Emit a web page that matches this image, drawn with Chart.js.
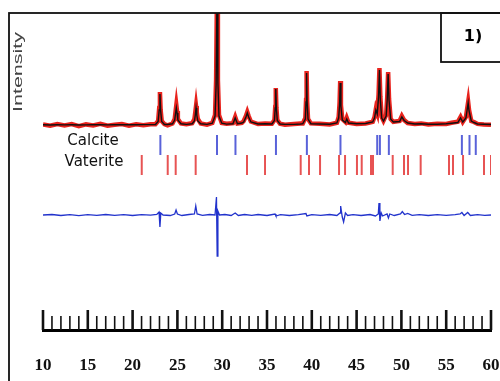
<!DOCTYPE html>
<html>
<head>
<meta charset="utf-8">
<script src="https://cdn.jsdelivr.net/npm/chart.js@4.4.1/dist/chart.umd.min.js"></script>
<style>
  html, body { margin: 0; padding: 0; background: #fff; overflow: hidden; }
  canvas { display: block; }
</style>
</head>
<body>
<canvas id="xrd" width="500" height="381"></canvas>
<script>
// 2theta grid shared by observed and calculated profiles
const twoTheta = [
  10, 10.8, 11.6, 12.4, 13.2, 14, 14.8, 15.6, 16.4, 17.2, 18, 18.8, 19.6, 20.4, 21.2, 22,
  22.55, 22.85, 22.97, 23.05, 23.13, 23.25, 23.55,
  23.9, 24.45, 24.7, 24.8, 24.88, 24.96, 25.05, 25.4, 26.0,
  26.65, 26.9, 27.0, 27.08, 27.16, 27.28, 27.6, 28.3,
  28.9, 29.2, 29.32, 29.42, 29.52, 29.64, 29.95, 30.5,
  31.2, 31.45, 31.7, 32.2, 32.4, 32.65, 32.8, 32.95, 33.2, 34.0, 34.8,
  35.55, 35.83, 35.92, 35.98, 36.05, 36.15, 36.45, 37.0, 38.0, 38.75,
  39.0, 39.28, 39.36, 39.42, 39.48, 39.58, 39.9, 40.9, 42.0, 42.8,
  43.0, 43.1, 43.17, 43.25, 43.4, 43.75, 43.9, 44.1, 45.0, 46.0, 46.8,
  47.0, 47.15, 47.3, 47.45, 47.55, 47.65, 47.8, 48.0, 48.3, 48.42, 48.52, 48.62, 48.8, 49.1,
  49.8, 50.05, 50.3, 50.7, 51.5, 52.2, 53.0, 54.0, 55.0, 55.6, 56.3,
  56.6, 56.85, 57.2, 57.35, 57.45, 57.55, 57.8, 58.1, 58.5, 59.2, 60.0
];

const yObs = [
  0.6, -0.8, 1.0, -0.5, 0.9, -1.1, 0.6, -0.4, 1.2, -0.7, 0.3, 1.0, -0.6, 0.7, -0.3, 0.8,
  0.8, 4, 17, 33, 15, 4, 0.8,
  -0.3, 1.5, 6, 14, 20, 14, 6, 1.5, 0.8,
  1.8, 6, 13, 19, 13, 6, 1.5, 0.4,
  2, 10, 45, 135, 45, 10, 2, 1.2,
  1.8, 8, 1.5, 2.2, 4, 9, 13, 9, 3.5, 1.0, 1.6,
  1.2, 5, 18, 37, 17, 5, 1.2, 0.3, 1.1, 1.6,
  1.6, 7, 25, 54, 24, 6, 1.6, 1.3, 0.5, 2.2,
  8, 22, 44, 20, 6, 3, 7, 2.2, 1, 1.6, 3.2,
  8, 16, 12, 30, 57, 28, 8, 4.2, 10, 28, 53, 26, 6, 3.2,
  4, 9, 5, 2, 1.1, 1.6, 0.5, 1.3, 1, 2.2, 3.2,
  8, 3.2, 8, 17, 23, 15, 4, 3, 1.1, 0.5, 0.2
];

const yCalc = [
  0.2, 0, 0.3, 0.1, 0.2, 0, 0.1, 0.2, 0.3, 0.1, 0.2, 0.3, 0.2, 0.3, 0.4, 0.4,
  0.5, 3.5, 15, 31, 14, 3.5, 0.5,
  0.5, 1.2, 5, 12, 17, 12, 5, 1.2, 0.6,
  1.2, 4, 10, 17, 10, 4, 1.2, 0.6,
  1.8, 9, 40, 130, 42, 9, 1.8, 0.9,
  1.2, 7, 1.2, 2, 3, 8, 12, 8, 3, 1.0, 1.2,
  1, 4.5, 17, 36, 16, 4.5, 1, 0.6, 0.6, 1,
  1.3, 6, 23, 52, 23, 6, 1.3, 1, 0.8, 2,
  7, 20, 42, 19, 5, 2.5, 6, 2, 1.2, 1.5, 3,
  7, 15, 11, 28, 55, 25, 7, 4, 9, 26, 51, 25, 6, 3,
  3.5, 8, 4.5, 2, 1, 1.2, 0.8, 0.8, 1.2, 1.8, 2.5,
  7, 3, 7, 16, 22, 14, 4, 2.5, 1, 0.8, 0.5
];

// difference curve (obs - calc)
const diffTheta = [
  10, 11, 12, 13, 14, 15, 16, 17, 18, 19, 20, 21, 22,
  22.7, 22.95, 23.05, 23.15, 23.4,
  24.2, 24.7, 24.85, 25.0, 25.5,
  26.3, 26.9, 27.05, 27.2, 27.8,
  28.6, 29.2, 29.36, 29.44, 29.52, 29.7,
  30.3, 31.0, 31.45, 31.8, 32.5, 33.3, 34.0, 35.0,
  35.9, 36.0, 36.5, 37.5, 38.5,
  39.35, 39.45, 40.0, 41.0, 42.0, 42.8,
  43.15, 43.22, 43.4, 43.55, 43.75, 44.0, 44.6, 45.5, 46.5,
  47.1, 47.42, 47.5, 47.6, 47.75, 47.9,
  48.4, 48.55, 48.7, 49.2,
  49.9, 50.1, 50.35, 50.7, 51.2,
  52.0, 53.0, 54.0, 55.0, 56.0,
  56.55, 56.75, 57.0, 57.4, 57.7,
  58.5, 59.3, 60.0
];
const yDiff = [
  0, 0.5, -0.5, 0.3, -0.6, 0.4, -0.3, 0.5, -0.4, 0.3, -0.5, 0.4, -0.2,
  0.5, 3, -12, 2, 0,
  -0.5, 1, 5, 1, -0.5,
  0.5, 1, 9, 1, -0.3,
  0.5, 0, 18, -41, 4, 0,
  0.5, -0.5, 2, -0.5, 0.5, -0.3, 0.5, -0.5,
  1, -1, 0.3, -0.5, 0.4,
  1.5, -1, 0.3, -0.4, 0.5, -0.5,
  2, 9, -2, -7, 2, -0.5, 0.3, -0.5, 0.5,
  -1, 1, 12, -6, 2, -1,
  1, -3, 1, -0.5,
  1, 3.5, 0.5, 1.5, -0.3,
  0.4, -0.5, 0.3, -0.4, 0.3,
  1, 2.5, -0.5, 2.5, -0.5,
  0.3, -0.4, 0
];

// Bragg reflection positions
const calcitePeaks = [23.1, 29.42, 31.48, 36.0, 39.45, 43.2, 47.3, 47.6, 48.6, 56.75, 57.6, 58.3];
const vateritePeaks = [21.02, 23.92, 24.81, 27.04, 32.77, 34.78, 38.76, 39.69, 40.92, 43.04, 43.71,
  45.04, 45.57, 46.61, 46.83, 49.03, 50.29, 50.74, 52.15, 55.31, 55.76, 56.88, 59.22, 60.0];

const xTicks = { min: 10, max: 60, step: 5 };

// vertical offsets of the stacked parts (y units)
const OBS_BASE = 205;
const DIFF_BASE = 115;
const CALCITE_ROW = 185;
const VATERITE_ROW = 165;

const obsPts = twoTheta.map((t, i) => ({ x: t, y: OBS_BASE + yObs[i] }));
const calcPts = twoTheta.map((t, i) => ({ x: t, y: OBS_BASE + yCalc[i] }));
const diffPts = diffTheta.map((t, i) => ({ x: t, y: DIFF_BASE + yDiff[i] }));
const calcitePts = calcitePeaks.map(t => ({ x: t, y: CALCITE_ROW }));
const vateritePts = vateritePeaks.map(t => ({ x: t, y: VATERITE_ROW }));

const decorations = {
  id: 'decorations',
  afterDraw(chart) {
    const ctx = chart.ctx;
    const xs = chart.scales.x;
    const bottom = chart.chartArea.bottom;
    ctx.save();

    // upward tick marks on the 2theta axis
    ctx.strokeStyle = '#111';
    for (let v = xTicks.min; v <= xTicks.max; v++) {
      const major = v % xTicks.step === 0;
      const px = xs.getPixelForValue(v);
      ctx.lineWidth = major ? 2.6 : 1.6;
      ctx.beginPath();
      ctx.moveTo(px, bottom);
      ctx.lineTo(px, bottom - (major ? 20 : 14));
      ctx.stroke();
    }

    // outer frame and panel box
    ctx.lineWidth = 1.8;
    ctx.strokeStyle = '#111';
    ctx.strokeRect(9, 13, 520, 400);
    ctx.strokeRect(441, 13, 80, 49);

    ctx.fillStyle = '#000';
    ctx.font = 'bold 16px "DejaVu Sans"';
    ctx.textAlign = 'center';
    ctx.textBaseline = 'middle';
    ctx.fillText('1)', 473, 37);

    // phase names
    ctx.fillStyle = '#111';
    ctx.font = '15px "DejaVu Sans"';
    ctx.fillText('Calcite', 93, 141);
    ctx.fillText('Vaterite', 94, 162);

    // stretched y label
    ctx.fillStyle = '#444';
    ctx.translate(18, 72);
    ctx.rotate(-Math.PI / 2);
    ctx.scale(1.65, 1);
    ctx.font = '13px "Liberation Sans"';
    ctx.fillText('Intensity', 0, 0);
    ctx.restore();
  }
};

new Chart(document.getElementById('xrd'), {
  type: 'scatter',
  data: {
    datasets: [
      {
        label: 'Calculated',
        data: calcPts,
        showLine: true,
        borderColor: '#111',
        borderWidth: 1.4,
        pointRadius: 0,
        order: 0
      },
      {
        label: 'Observed',
        data: obsPts,
        showLine: true,
        borderColor: '#e8231d',
        borderWidth: 4.5,
        pointRadius: 0,
        order: 1
      },
      {
        label: 'Difference',
        data: diffPts,
        showLine: true,
        borderColor: '#2233cc',
        borderWidth: 1.3,
        pointRadius: 0,
        order: 2
      },
      {
        label: 'Calcite',
        data: calcitePts,
        pointStyle: 'line',
        rotation: 90,
        pointRadius: 10,
        borderWidth: 2,
        borderColor: 'rgba(60,70,210,0.85)',
        order: 3
      },
      {
        label: 'Vaterite',
        data: vateritePts,
        pointStyle: 'line',
        rotation: 90,
        pointRadius: 10,
        borderWidth: 2,
        borderColor: 'rgba(225,40,40,0.8)',
        order: 4
      }
    ]
  },
  options: {
    responsive: false,
    animation: false,
    devicePixelRatio: 1,
    // tick labels are pushed down with a tall line height, so the bottom padding goes negative
    layout: { autoPadding: false, padding: { left: 43, right: 9, top: 13, bottom: -12.25 } },
    plugins: {
      legend: { display: false },
      tooltip: { enabled: false }
    },
    scales: {
      x: {
        type: 'linear',
        min: xTicks.min,
        max: xTicks.max,
        grid: { display: false },
        border: { display: true, width: 3, color: '#000' },
        ticks: {
          stepSize: xTicks.step,
          autoSkip: false,
          maxRotation: 0,
          padding: 0,
          color: '#111',
          font: { family: 'Liberation Serif', size: 17, weight: 'bold', lineHeight: 3.25 }
        }
      },
      y: {
        display: false,
        min: 0,
        max: 317
      }
    }
  },
  plugins: [decorations]
});
</script>
</body>
</html>
